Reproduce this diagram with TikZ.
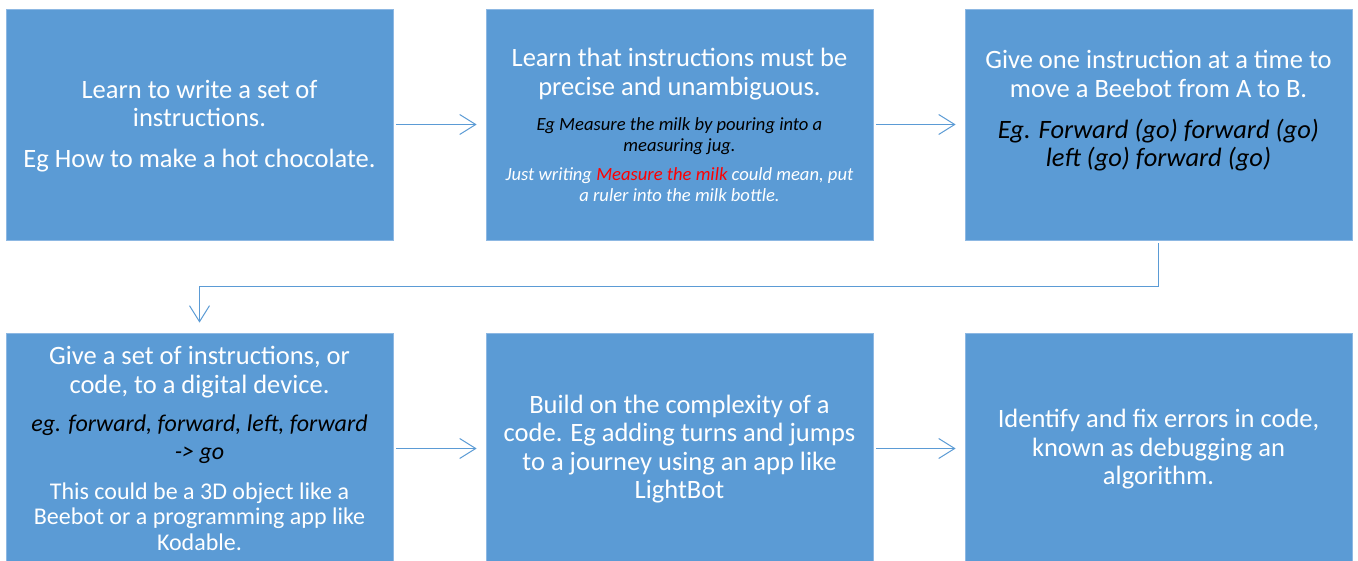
\documentclass[tikz,border=0pt]{standalone}
\usepackage{fontspec}
\setmainfont{Carlito}
\usetikzlibrary{arrows.meta}
\definecolor{boxblue}{HTML}{5B9BD5}
\definecolor{boxedge}{HTML}{8DB8E3}
\definecolor{linkblue}{HTML}{5B9BD5}
\definecolor{warnred}{HTML}{FF0000}
\tikzset{
  stepbox/.style={rectangle, fill=boxblue, draw=boxedge, line width=0.8pt, minimum width=387pt, minimum height=231pt, inner sep=0pt},
  bigtxt/.style={align=center, text=white, inner sep=0pt, font=\fontsize{26.5}{28.5}\selectfont},
  bigital/.style={align=center, text=black, inner sep=0pt, font=\fontsize{26.5}{28.5}\selectfont\itshape},
  smallital/.style={align=center, text=black, inner sep=0pt, font=\fontsize{18.6}{21.5}\selectfont\itshape},
  midtxt/.style={align=center, text=white, inner sep=0pt, font=\fontsize{24}{25.5}\selectfont},
  link/.style={draw=linkblue, line width=1pt, -{Straight Barb[length=16pt,width=20pt,line width=1pt]}, shorten <=3pt, shorten >=9pt}
}
\begin{document}
\begin{tikzpicture}[x=1pt,y=-1pt]
\useasboundingbox[fill=white] (0,0) rectangle (1358,561);
% boxes
\node[stepbox] (b1) at (199.5,124.5) {};
\node[stepbox] (b2) at (679.5,124.5) {};
\node[stepbox] (b3) at (1158.5,124.5) {};
\node[stepbox] (b4) at (199.5,448.5) {};
\node[stepbox] (b5) at (679.5,448.5) {};
\node[stepbox] (b6) at (1158.5,448.5) {};
% texts
\node[bigtxt] (t1a) at (199.5,103.5) {Learn to write a set of\\instructions.};
\node[bigtxt] (t1b) at (199.5,161) {Eg How to make a hot chocolate.};
\node[bigtxt] (t2a) at (679.5,74) {Learn that instructions must be\\precise and unambiguous.};
\node[smallital] (t2b) at (679.5,136) {Eg Measure the milk by pouring into a\\measuring jug.};
\node[smallital, text=white] (t2c) at (679.5,184.5) {Just writing {\color{warnred}Measure the milk} could mean, put\\a ruler into the milk bottle.};
\node[bigtxt] (t3a) at (1158.5,74) {Give one instruction at a time to\\move a Beebot from A to B.};
\node[bigital] (t3b) at (1158.5,145) {Eg. Forward (go) forward (go)\\left (go) forward (go)};
\node[bigtxt] (t4a) at (199.5,372) {Give a set of instructions, or\\code, to a digital device.};
\node[bigital, font=\fontsize{24}{28}\selectfont\itshape] (t4b) at (199.5,439) {eg. forward, forward, left, forward\\-> go};
\node[midtxt] (t4c) at (199.5,516.5) {This could be a 3D object like a\\Beebot or a programming app like\\Kodable.};
\node[bigtxt] (t5) at (679.5,449) {Build on the complexity of a\\code. Eg adding turns and jumps\\to a journey using an app like\\LightBot};
\node[bigtxt] (t6) at (1158.5,449.5) {Identify and fix errors in code,\\known as debugging an\\algorithm.};
% connectors
\draw[link] (b1.east) -- (b2.west);
\draw[link] (b2.east) -- (b3.west);
\draw[link] (b4.east) -- (b5.west);
\draw[link] (b5.east) -- (b6.west);
\draw[link, shorten >=10pt] (b3.south) -- ++(0,46.5) -| (b4.north);
\end{tikzpicture}
\end{document}
